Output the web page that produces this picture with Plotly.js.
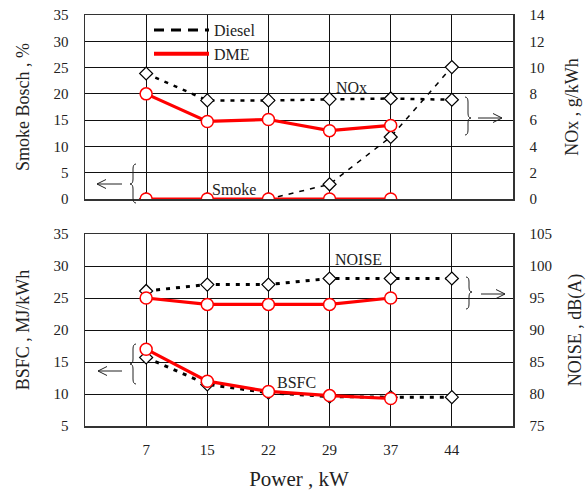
<!DOCTYPE html>
<html><head><meta charset="utf-8">
<script src="https://cdn.plot.ly/plotly-3.0.1.min.js"></script>
<style>html,body{margin:0;padding:0;background:#fff}#c{width:586px;height:491px}</style>
</head><body><div id="c"></div>
<script>
// ---- data ----
const powerLabels = ['7','15','22','29','37','44'];
const smokeDiesel = [0, 0, 0, 2.8, 11.8, 25.1];
const smokeDME    = [0, 0, 0, 0, 0];
const noxDiesel   = [9.55, 7.5, 7.5, 7.6, 7.65, 7.55];
const noxDME      = [8.0, 5.9, 6.05, 5.2, 5.6];
const noiseDiesel = [96.1, 97.1, 97.1, 98.05, 98.05, 98.05];
const noiseDME    = [95.0, 94.0, 94.0, 94.0, 95.0];
const bsfcDiesel  = [15.7, 11.5, 10.2, 9.6, 9.5, 9.5];
const bsfcDME     = [17.0, 12.0, 10.4, 9.75, 9.3];

const idx = a => a.map((_, i) => i);
const F = 'Liberation Serif, Times New Roman, serif';
const L = 85, R = 513, T = 15, B = 426;
const px = x => (x - L) / (R - L);
const py = y => (B - y) / (B - T);

const diamond = {symbol: 'diamond', size: 10, color: '#fff', line: {color: '#000', width: 1.2}};
const circle = {symbol: 'circle', size: 12, color: '#fff', line: {color: '#ff0000', width: 1.5}};
const red = {color: '#ff0000', width: 3.2};

const traces = [
  {x: idx(smokeDiesel), y: smokeDiesel, xaxis: 'x', yaxis: 'y', mode: 'lines+markers', line: {color: '#000', width: 1.5, dash: '5px,6px'}, marker: diamond, showlegend: false},
  {x: idx(noxDiesel), y: noxDiesel, xaxis: 'x', yaxis: 'y2', mode: 'lines+markers', line: {color: '#000', width: 2.5, dash: '4px,6px'}, marker: diamond, showlegend: false},
  {x: idx(smokeDME), y: smokeDME, xaxis: 'x', yaxis: 'y', mode: 'lines+markers', line: red, marker: circle, showlegend: false},
  {x: idx(noxDME), y: noxDME, xaxis: 'x', yaxis: 'y2', mode: 'lines+markers', line: red, marker: circle, showlegend: false},
  {x: idx(bsfcDiesel), y: bsfcDiesel, xaxis: 'x2', yaxis: 'y3', mode: 'lines+markers', line: {color: '#000', width: 3, dash: '4px,6px'}, marker: diamond, showlegend: false},
  {x: idx(noiseDiesel), y: noiseDiesel, xaxis: 'x2', yaxis: 'y4', mode: 'lines+markers', line: {color: '#000', width: 3, dash: '4px,6px'}, marker: diamond, showlegend: false},
  {x: idx(bsfcDME), y: bsfcDME, xaxis: 'x2', yaxis: 'y3', mode: 'lines+markers', line: red, marker: circle, showlegend: false},
  {x: idx(noiseDME), y: noiseDME, xaxis: 'x2', yaxis: 'y4', mode: 'lines+markers', line: red, marker: circle, showlegend: false},
  // legend entries
  {x: [null], y: [null], xaxis: 'x', yaxis: 'y', name: 'Diesel', mode: 'lines', line: {color: '#000', width: 3, dash: '10px,7px'}},
  {x: [null], y: [null], xaxis: 'x', yaxis: 'y', name: 'DME', mode: 'lines', line: {color: '#ff0000', width: 4}}
];

const grid = '#111';
const tickF = {family: F, size: 15, color: '#222'};
const titleF = {family: F, size: 18, color: '#222'};
const xCommon = {range: [-1, 6], tickvals: idx(powerLabels), ticktext: powerLabels, showgrid: true, gridcolor: grid, gridwidth: 1,
  zeroline: false, showline: true, linecolor: '#333', linewidth: 1.5, mirror: true, ticks: '', tickfont: tickF, fixedrange: true};
const yCommon = {dtick: 5, showgrid: true, gridcolor: grid, gridwidth: 1, zeroline: false, showline: true, linecolor: '#333',
  linewidth: 1.5, mirror: true, ticks: '', tickfont: tickF, ticklabelstandoff: 12};

const topDom = [py(199), 1];
const botDom = [0, py(234)];

function brace(xo, yTop, yBot, yTip, dir) {
  // dir = -1 points left, +1 points right
  const w = 6 * dir, h = 5;
  const xb = xo, xm = xo + w / 2, xt = xo + w;
  const pts = [
    `M${px(xb)},${py(yTop)}`,
    `Q${px(xm)},${py(yTop)} ${px(xm)},${py(yTop + h)}`,
    `L${px(xm)},${py(yTip - h)}`,
    `Q${px(xm)},${py(yTip)} ${px(xt)},${py(yTip)}`,
    `Q${px(xm)},${py(yTip)} ${px(xm)},${py(yTip + h)}`,
    `L${px(xm)},${py(yBot - h)}`,
    `Q${px(xm)},${py(yBot)} ${px(xb)},${py(yBot)}`
  ];
  return {type: 'path', xref: 'paper', yref: 'paper', path: pts.join(' '), line: {color: '#222', width: 1}};
}
function arrow(x0, x1, y) {
  const d = x1 > x0 ? -1 : 1;
  const s = {type: 'line', xref: 'paper', yref: 'paper', line: {color: '#222', width: 1}};
  return [
    Object.assign({}, s, {x0: px(x0), x1: px(x1), y0: py(y), y1: py(y)}),
    Object.assign({}, s, {x0: px(x1), x1: px(x1 + d * 9), y0: py(y), y1: py(y - 4.5)}),
    Object.assign({}, s, {x0: px(x1), x1: px(x1 + d * 9), y0: py(y), y1: py(y + 4.5)})
  ];
}

const shapes = [
  brace(136, 164, 203, 184, -1),
  brace(465, 97, 135, 118, 1),
  brace(136, 344, 384, 364, -1),
  brace(466, 277, 309, 292, 1),
  ...arrow(122, 97, 184),
  ...arrow(478, 502, 118),
  ...arrow(122, 98, 371),
  ...arrow(481, 505, 294)
];

function lab(text, x, y) {
  return {text: text, xref: 'paper', yref: 'paper', x: px(x), y: py(y), showarrow: false, xanchor: 'center', yanchor: 'middle',
    font: {family: F, size: 16, color: '#222'}};
}

const layout = {
  width: 586, height: 491,
  margin: {l: L, r: 586 - R, t: T, b: 491 - B},
  paper_bgcolor: '#fff', plot_bgcolor: '#fff',
  font: {family: F, color: '#222'},
  xaxis: Object.assign({}, xCommon, {anchor: 'y', showticklabels: false}),
  yaxis: Object.assign({}, yCommon, {domain: topDom, range: [0, 35], anchor: 'x', title: {text: 'Smoke Bosch , %', font: titleF, standoff: 19}}),
  yaxis2: Object.assign({}, yCommon, {overlaying: 'y', side: 'right', range: [0, 14], dtick: 2, showgrid: false, anchor: 'x', title: {text: 'NOx , g/kWh', font: titleF, standoff: 21}}),
  xaxis2: Object.assign({}, xCommon, {anchor: 'y3', ticklabelstandoff: 9, title: {text: 'Power , kW', font: {family: F, size: 21, color: '#222'}, standoff: 23}}),
  yaxis3: Object.assign({}, yCommon, {domain: botDom, range: [5, 35], anchor: 'x2', title: {text: 'BSFC , MJ/kWh', font: titleF, standoff: 19}}),
  yaxis4: Object.assign({}, yCommon, {overlaying: 'y3', side: 'right', range: [75, 105], showgrid: false, anchor: 'x2', title: {text: 'NOISE , dB(A)', font: titleF, standoff: 21}}),
  showlegend: true,
  legend: {x: px(149), y: py(13), xanchor: 'left', yanchor: 'top', bgcolor: 'rgba(0,0,0,0)', borderwidth: 0,
    font: {family: F, size: 16, color: '#222'}, itemwidth: 55},
  shapes: shapes,
  annotations: [
    lab('NOx', 351, 87),
    lab('Smoke', 234, 189),
    lab('NOISE', 358, 259),
    lab('BSFC', 296, 382)
  ]
};

Plotly.newPlot('c', traces, layout, {displayModeBar: false, staticPlot: true});
</script></body></html>
